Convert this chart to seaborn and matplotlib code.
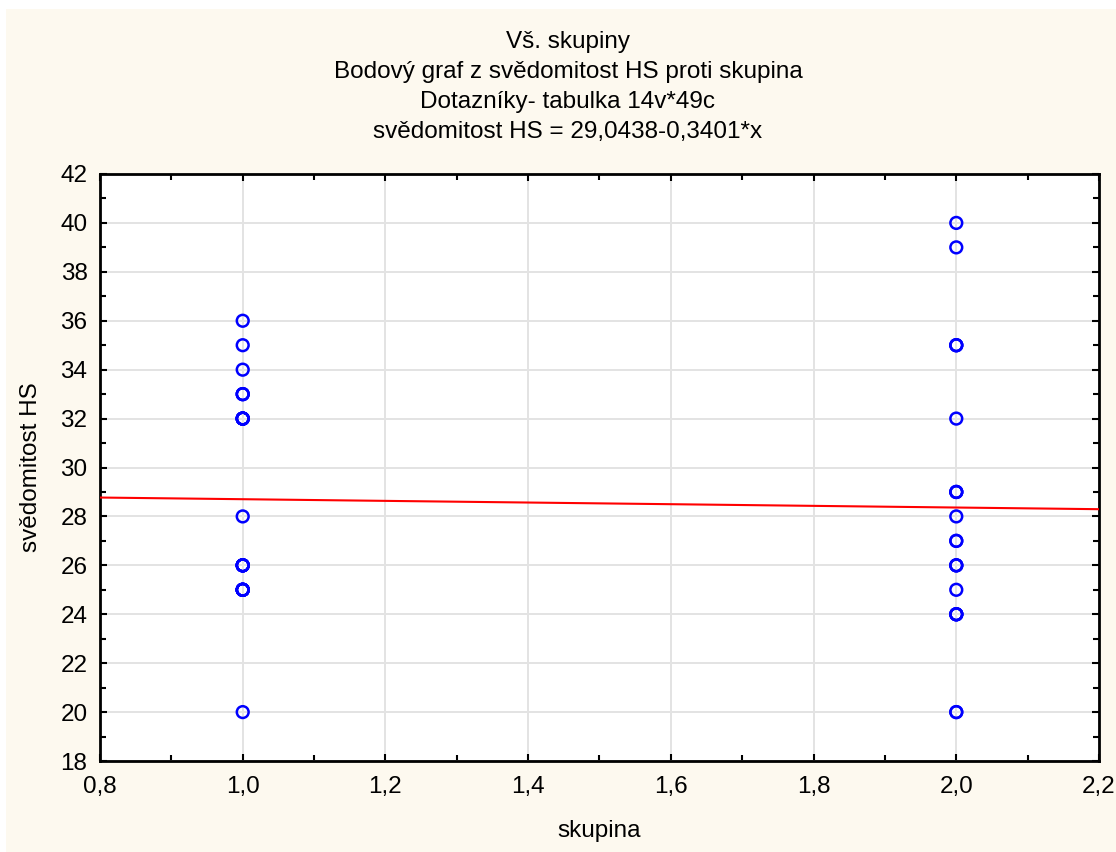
import numpy as np
import pandas as pd
import matplotlib
matplotlib.use("Agg")
import matplotlib.pyplot as plt
from matplotlib.ticker import MultipleLocator, FuncFormatter
from matplotlib.patches import Rectangle
import seaborn as sns

# ---- data ----
group1_values = [36, 35, 34, 33, 33, 33, 32, 32, 32, 32, 32, 32, 28,
                 26, 26, 26, 26, 26, 26, 25, 25, 25, 25, 25, 25, 25, 20]
group2_values = [40, 39, 35, 35, 35, 32, 29, 29, 29, 28, 27, 27,
                 26, 26, 26, 25, 24, 24, 24, 24, 20, 20]
intercept = 29.0438
slope = -0.3401
title_lines = ["Vš. skupiny",
               "Bodový graf z svědomitost HS proti skupina",
               "Dotazníky- tabulka 14v*49c",
               "svědomitost HS = 29,0438-0,3401*x"]
x_label = "skupina"
y_label = "svědomitost HS"

df = pd.DataFrame({
    "skupina": [1.0] * len(group1_values) + [2.0] * len(group2_values),
    "HS": group1_values + group2_values,
})

sns.set_theme(style="white")
plt.rcParams['font.family'] = ['Liberation Sans', 'DejaVu Sans']

W, H = 1116, 852
FS = 17.5
fig = plt.figure(figsize=(W / 100, H / 100), dpi=100, facecolor="white")
bg = Rectangle((6 / W, 0), 1 - 6 / W, 1 - 9 / H, transform=fig.transFigure,
               facecolor="#fdf9ef", edgecolor="none", zorder=-10)
fig.add_artist(bg)
ax = fig.add_axes([100 / W, 1 - 761 / H, (1099 - 100) / W, (761 - 174) / H])
ax.set_zorder(1)
ax.set_facecolor("white")

xmin, xmax = 0.8, 2.2
ax.set_xlim(xmin, xmax)
ax.set_ylim(18, 42)

line_x = np.array([xmin, xmax])
line_df = pd.DataFrame({"x": line_x, "y": intercept + slope * line_x})
sns.lineplot(data=line_df, x="x", y="y", ax=ax, color="#ff0000", linewidth=1.5, zorder=3)

sns.scatterplot(data=df, x="skupina", y="HS", ax=ax, marker="o", s=72,
                facecolor="none", edgecolor="#0000ff", linewidth=1.8, zorder=4)

ax.xaxis.set_major_locator(MultipleLocator(0.2))
ax.xaxis.set_minor_locator(MultipleLocator(0.1))
ax.yaxis.set_major_locator(MultipleLocator(2))
ax.yaxis.set_minor_locator(MultipleLocator(1))
ax.xaxis.set_major_formatter(FuncFormatter(lambda v, p: f"{v:.1f}".replace(".", ",")))
ax.yaxis.set_major_formatter(FuncFormatter(lambda v, p: f"{v:.0f}"))

ax.grid(True, which="major", color="#e3e3e3", linewidth=1.4)
ax.set_axisbelow(True)
for s in ax.spines.values():
    s.set_visible(True)
    s.set_color("black")
    s.set_linewidth(2)

ax.tick_params(which="both", direction="in", top=True, right=True, bottom=True, left=True,
               color="black", width=1.5)
ax.tick_params(which="major", length=5)
ax.tick_params(which="minor", length=4)
ax.tick_params(axis="x", which="major", labelsize=FS, pad=11, colors="black")
ax.tick_params(axis="y", which="major", labelsize=FS, pad=9, colors="black")

ax.set_xlabel(x_label, fontsize=FS, color="black", labelpad=16)
ax.set_ylabel(y_label, fontsize=FS, color="black", labelpad=13)

for i, t in enumerate(title_lines):
    yc = 42 + 30 * i
    fig.text(568 / W, 1 - yc / H, t, ha="center", va="center", fontsize=FS, color="black")

fig.savefig("out.png", dpi=100, facecolor=fig.get_facecolor())
